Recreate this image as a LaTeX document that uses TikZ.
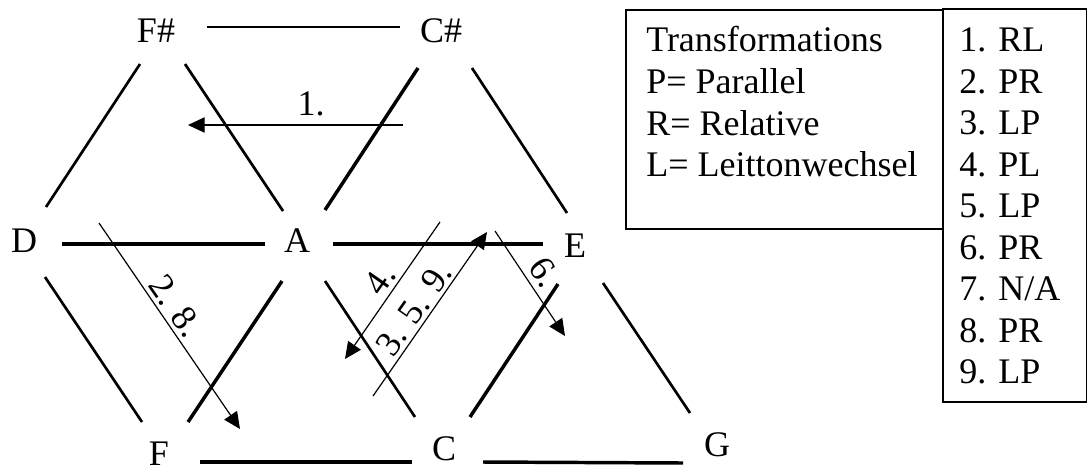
\documentclass[tikz,border=0pt]{standalone}
\usepackage{fontspec}
\setmainfont{Liberation Serif}
\usetikzlibrary{calc,arrows.meta}
\begin{document}
\begin{tikzpicture}[x=0.75pt,y=-0.75pt,
  lab/.style={font=\fontsize{27}{32}\selectfont, inner sep=0pt},
  edge/.style={line width=2pt},
  edgeT/.style={line width=2.6pt},
  arr/.style={line width=0.9pt, -{Triangle[length=12.5pt,width=11.5pt]}},
  boxline/.style={line width=1pt}]
\useasboundingbox (0,0) rectangle (1088,468);
% chord labels
\node[lab, anchor=base] (Fs) at (156,42) {F\#};
\node[lab, anchor=base] (Cs) at (441,42) {C\#};
\node[lab, anchor=base] (D) at (24,252) {D};
\node[lab, anchor=base] (A) at (297,252) {A};
\node[lab, anchor=base] (E) at (575,257) {E};
\node[lab, anchor=base] (F) at (159,465) {F};
\node[lab, anchor=base] (C) at (444,460) {C};
\node[lab, anchor=base] (G) at (717,456) {G};
% lattice edges
\draw[edge]  ($(Fs.base)+(51,-15)$) -- ($(Cs.base)+(-41,-15)$);
\draw[edge]  ($(Fs.base)+(-16,22)$) -- ($(D.base)+(22,-45)$);
\draw[edge]  ($(Fs.base)+(29,22)$)  -- ($(A.base)+(-14,-41)$);
\draw[edgeT] ($(Cs.base)+(-23,26)$) -- ($(A.base)+(28,-42)$);
\draw[edge]  ($(Cs.base)+(31,26)$)  -- ($(E.base)+(-8,-44)$);
\draw[edgeT] ($(D.base)+(38,-8)$)   -- ($(A.base)+(-32,-8)$);
\draw[edgeT] ($(A.base)+(36,-8)$)   -- ($(E.base)+(-32,-13)$);
\draw[edge]  ($(D.base)+(21,25)$)   -- ($(F.base)+(-17,-43)$);
\draw[edgeT] ($(A.base)+(-15,29)$)  -- ($(F.base)+(29,-43)$);
\draw[edge]  ($(A.base)+(28,29)$)   -- ($(C.base)+(-29,-43)$);
\draw[edgeT] ($(E.base)+(-17,27)$)  -- ($(C.base)+(26,-43)$);
\draw[edge]  ($(E.base)+(28,26)$)   -- ($(G.base)+(-27,-43)$);
\draw[edgeT] ($(F.base)+(41,-3)$)   -- ($(C.base)+(-32,2)$);
\draw[edgeT] ($(C.base)+(39,2)$)    -- ($(G.base)+(-34,7)$);
% transformation arrows
\coordinate (a1s) at (403,125);  \coordinate (a1e) at (188,125);
\coordinate (a2s) at (99,223);   \coordinate (a2e) at (240,429);
\coordinate (a4s) at (440,222);  \coordinate (a4e) at (345,359);
\coordinate (a3s) at (373,396);  \coordinate (a3e) at (487,232);
\coordinate (a6s) at (495,231);  \coordinate (a6e) at (565,336);
\draw[arr] (a1s) -- (a1e);
\draw[arr] (a2s) -- (a2e);
\draw[arr] (a4s) -- (a4e);
\draw[arr] (a3s) -- (a3e);
\draw[arr] (a6s) -- (a6e);
\node[lab, anchor=base] (l1) at (311,115) {1.};
\node[lab, rotate=-55] (l28) at (176,306) {2. 8.};
\node[lab, rotate=55] (l4) at (380,280) {4.};
\node[lab, rotate=55] (l359) at (414,309) {3. 5. 9.};
\node[lab, rotate=-56] (l6) at (545,272) {6.};
% legend
\draw[boxline] (626,10) rectangle (943,229);
\draw[boxline] (943,9) rectangle (1086.5,402);
\foreach \t [count=\i from 0] in {Transformations, P= Parallel, R= Relative, L= Leittonwechsel}
  \node[lab, anchor=base west] (t\i) at (646,{51.7+41.67*\i}) {\t};
\foreach \t [count=\i from 0] in {1. RL, 2. PR, 3. LP, 4. PL, 5. LP, 6. PR, 7. N/A, 8. PR, 9. LP}
  \node[lab, anchor=base west] (k\i) at (959,{51.7+41.5*\i}) {\t};
\end{tikzpicture}
\end{document}
